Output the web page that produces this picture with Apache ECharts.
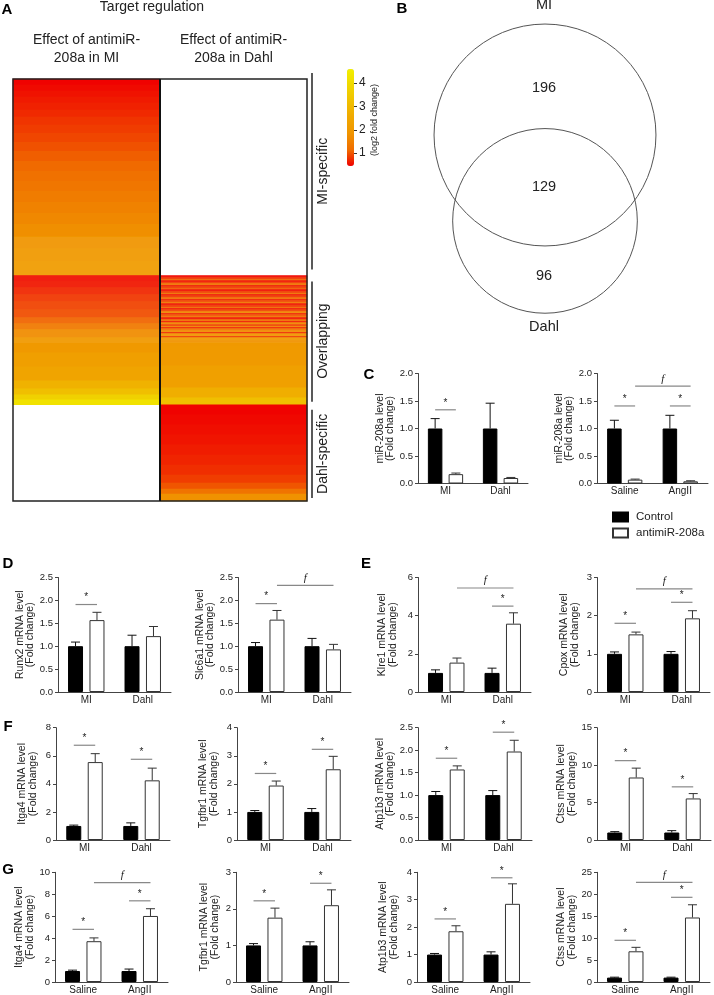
<!DOCTYPE html>
<html><head><meta charset="utf-8">
<script src="https://cdn.jsdelivr.net/npm/echarts@6/dist/echarts.min.js"></script>
<style>html,body{margin:0;padding:0;background:#fff}#c{width:714px;height:995px}</style>
</head><body><div id="c"></div>
<script>
const FONT = '"Liberation Sans", Arial, Helvetica, sans-serif';

// ---------------- Panel A : heatmap (run-length segments: [rows, log2 fold change]) ----------------
const heatColumns = ['Effect of antimiR-\n208a in MI', 'Effect of antimiR-\n208a in Dahl'];
const heatGroups = ['MI-specific', 'Overlapping', 'Dahl-specific'];
const heatGroupCounts = [196, 129, 96];
const miSpecific_inMI = [[6,0.47],[6,0.52],[6,0.57],[6,0.62],[7,0.67],[7,0.72],[8,0.78],[8,0.84],[9,0.9],[9,0.97],
  [10,1.05],[10,1.13],[10,1.22],[10,1.32],[11,1.42],[11,1.52],[11,1.63],[12,1.75],[12,1.88],[13,2.0],[14,2.12]];
const overlap_inMI = [[6,0.55],[6,0.6],[7,0.7],[7,0.8],[8,0.88],[8,0.95],[6,1.1],[6,1.35],[8,1.7],[15,2.0],
  [14,2.2],[14,2.4],[8,2.8],[6,3.2],[5,3.7],[5,4.2]];
const overlap_inDahl = [[2,0.5],[2,0.8],[1,1.2],[2,0.6],[1,0.9],[2,1.3],[1,0.5],[2,0.85],[1,1.1],[2,0.55],
  [2,0.9],[1,1.4],[1,0.5],[2,0.8],[2,1.2],[1,0.55],[2,0.95],[1,1.5],[2,0.6],[2,0.85],
  [1,1.3],[1,0.5],[2,0.9],[2,1.6],[1,0.55],[2,1.0],[1,1.4],[2,0.6],[2,1.2],[1,0.5],
  [2,1.6],[2,0.9],[1,1.8],[1,0.55],[2,1.3],[2,1.7],[1,0.6],[3,1.9],[1,0.7],[3,2.0],
  [2,1.8],[3,2.0],[20,2.05],[22,2.25],[10,2.7],[7,3.2]];
const dahlSpecific_inDahl = [[10,0.46],[10,0.5],[10,0.54],[10,0.58],[10,0.63],[10,0.68],[10,0.75],[8,0.85],[6,1.0],[5,1.3],[7,1.8]];
const colorbarRange = [0.45, 4.6];
const colorbarTicks = [1, 2, 3, 4];

// ---------------- Panel B : Venn ----------------
const vennSetNames = ['MI', 'Dahl'];
const vennRegionCounts = [196, 129, 96]; // MI only, both, Dahl only

// ---------------- Panels C-G : bar charts ----------------
const seriesNames = ['Control', 'antimiR-208a'];
const catsMIDahl = ['MI', 'Dahl'];
const catsSalineAngII = ['Saline', 'AngII'];
// significance: [label, catA, seriesA, catB, seriesB, yLevel]
const C1_control = [1.0, 1.0], C1_controlErr = [1.18, 1.46], C1_antimiR = [0.17, 0.10], C1_antimiRErr = [0.19, 0.11];
const C1_sig = [['*',0,0,0,1,1.34]];
const C2_control = [1.0, 1.0], C2_controlErr = [1.15, 1.24], C2_antimiR = [0.07, 0.04], C2_antimiRErr = [0.08, 0.05];
const C2_sig = [['*',0,0,0,1,1.41],['*',1,0,1,1,1.41],['f',0,1,1,1,1.77]];
const D1_control = [1.0, 1.0], D1_controlErr = [1.09, 1.24], D1_antimiR = [1.57, 1.22], D1_antimiRErr = [1.74, 1.43];
const D1_sig = [['*',0,0,0,1,1.91]];
const D2_control = [1.0, 1.0], D2_controlErr = [1.08, 1.17], D2_antimiR = [1.58, 0.93], D2_antimiRErr = [1.78, 1.04];
const D2_sig = [['*',0,0,0,1,1.93],['f',0,1,1,1,2.33]];
const E1_control = [1.0, 1.0], E1_controlErr = [1.16, 1.25], E1_antimiR = [1.54, 3.58], E1_antimiRErr = [1.78, 4.15];
const E1_sig = [['*',1,0,1,1,4.5],['f',0,1,1,1,5.45]];
const E2_control = [1.0, 1.0], E2_controlErr = [1.05, 1.06], E2_antimiR = [1.51, 1.93], E2_antimiRErr = [1.57, 2.13];
const E2_sig = [['*',0,0,0,1,1.8],['*',1,0,1,1,2.35],['f',0,1,1,1,2.7]];
const F1_control = [1.0, 1.0], F1_controlErr = [1.06, 1.22], F1_antimiR = [5.55, 4.25], F1_antimiRErr = [6.15, 5.12];
const F1_sig = [['*',0,0,0,1,6.75],['*',1,0,1,1,5.75]];
const F2_control = [1.0, 1.0], F2_controlErr = [1.05, 1.12], F2_antimiR = [1.94, 2.52], F2_antimiRErr = [2.1, 2.98];
const F2_sig = [['*',0,0,0,1,2.37],['*',1,0,1,1,3.23]];
const F3_control = [1.0, 1.0], F3_controlErr = [1.08, 1.1], F3_antimiR = [1.57, 1.97], F3_antimiRErr = [1.65, 2.22];
const F3_sig = [['*',0,0,0,1,1.82],['*',1,0,1,1,2.40]];
const F4_control = [1.0, 1.0], F4_controlErr = [1.12, 1.25], F4_antimiR = [8.35, 5.55], F4_antimiRErr = [9.6, 6.2];
const F4_sig = [['*',0,0,0,1,10.6],['*',1,0,1,1,7.1]];
const G1_control = [1.0, 1.0], G1_controlErr = [1.08, 1.18], G1_antimiR = [3.72, 6.02], G1_antimiRErr = [4.02, 6.68];
const G1_sig = [['*',0,0,0,1,4.8],['*',1,0,1,1,7.4],['f',0,1,1,1,9.05]];
const G2_control = [1.0, 1.0], G2_controlErr = [1.05, 1.1], G2_antimiR = [1.76, 2.1], G2_antimiRErr = [2.02, 2.52];
const G2_sig = [['*',0,0,0,1,2.22],['*',1,0,1,1,2.7]];
const G3_control = [1.0, 1.0], G3_controlErr = [1.04, 1.1], G3_antimiR = [1.85, 2.85], G3_antimiRErr = [2.05, 3.58];
const G3_sig = [['*',0,0,0,1,2.3],['*',1,0,1,1,3.8]];
const G4_control = [1.0, 1.0], G4_controlErr = [1.1, 1.1], G4_antimiR = [7.0, 14.7], G4_antimiRErr = [7.9, 17.6];
const G4_sig = [['*',0,0,0,1,9.5],['*',1,0,1,1,19.3],['f',0,1,1,1,22.7]];

const yTitles = {
  C1:'miR-208a level', C2:'miR-208a level', D1:'Runx2 mRNA level', D2:'Slc6a1 mRNA level',
  E1:'Klre1 mRNA level', E2:'Cpox mRNA level', F1:'Itga4 mRNA level', F2:'Tgfbr1 mRNA level',
  F3:'Atp1b3 mRNA level', F4:'Ctss mRNA level', G1:'Itga4 mRNA level', G2:'Tgfbr1 mRNA level',
  G3:'Atp1b3 mRNA level', G4:'Ctss mRNA level'
};

const chartDefs = [
  ['C1', catsMIDahl, C1_control, C1_controlErr, C1_antimiR, C1_antimiRErr, C1_sig],
  ['C2', catsSalineAngII, C2_control, C2_controlErr, C2_antimiR, C2_antimiRErr, C2_sig],
  ['D1', catsMIDahl, D1_control, D1_controlErr, D1_antimiR, D1_antimiRErr, D1_sig],
  ['D2', catsMIDahl, D2_control, D2_controlErr, D2_antimiR, D2_antimiRErr, D2_sig],
  ['E1', catsMIDahl, E1_control, E1_controlErr, E1_antimiR, E1_antimiRErr, E1_sig],
  ['E2', catsMIDahl, E2_control, E2_controlErr, E2_antimiR, E2_antimiRErr, E2_sig],
  ['F1', catsMIDahl, F1_control, F1_controlErr, F1_antimiR, F1_antimiRErr, F1_sig],
  ['F2', catsMIDahl, F2_control, F2_controlErr, F2_antimiR, F2_antimiRErr, F2_sig],
  ['F3', catsMIDahl, F3_control, F3_controlErr, F3_antimiR, F3_antimiRErr, F3_sig],
  ['F4', catsMIDahl, F4_control, F4_controlErr, F4_antimiR, F4_antimiRErr, F4_sig],
  ['G1', catsSalineAngII, G1_control, G1_controlErr, G1_antimiR, G1_antimiRErr, G1_sig],
  ['G2', catsSalineAngII, G2_control, G2_controlErr, G2_antimiR, G2_antimiRErr, G2_sig],
  ['G3', catsSalineAngII, G3_control, G3_controlErr, G3_antimiR, G3_antimiRErr, G3_sig],
  ['G4', catsSalineAngII, G4_control, G4_controlErr, G4_antimiR, G4_antimiRErr, G4_sig]
];

// ---------------- layout (positions / sizes / styles) ----------------
const layouts = {
  C1:{left:418, top:373.5, width:110, height:110, max:2, interval:0.5, dec:1, gap:17, bw:14.5},
  C2:{left:597, top:373.5, width:111, height:110, max:2, interval:0.5, dec:1, gap:19, bw:14.5},
  D1:{left:58, top:577.5, width:113, height:114.5, max:2.5, interval:0.5, dec:1, gap:18, bw:15},
  D2:{left:238, top:577.5, width:113, height:114.5, max:2.5, interval:0.5, dec:1, gap:22, bw:15},
  E1:{left:418, top:577.5, width:113, height:114.5, max:6, interval:2, dec:0, gap:20, bw:15},
  E2:{left:597, top:577.5, width:113, height:114.5, max:3, interval:1, dec:0, gap:17, bw:15},
  F1:{left:56, top:727.7, width:114, height:112.3, max:8, interval:2, dec:0, gap:18, bw:15},
  F2:{left:237, top:727.7, width:114, height:112.3, max:4, interval:1, dec:0, gap:18, bw:15},
  F3:{left:418, top:727.7, width:114, height:112.3, max:2.5, interval:0.5, dec:1, gap:18, bw:15},
  F4:{left:597, top:727.7, width:114, height:112.3, max:15, interval:5, dec:0, gap:17, bw:15},
  G1:{left:55, top:872.3, width:113, height:111.7, max:10, interval:2, dec:0, gap:17, bw:15},
  G2:{left:236, top:872.3, width:113, height:111.7, max:3, interval:1, dec:0, gap:16, bw:15},
  G3:{left:417, top:872.3, width:113, height:111.7, max:4, interval:1, dec:0, gap:18, bw:15},
  G4:{left:597, top:872.3, width:113, height:111.7, max:25, interval:5, dec:0, gap:15, bw:15}
};
const BAR_GAP_RATIO = 0.43;
const heatLayout = {left:13, top:79, width:294, height:422};
const vennLayout = {left:380, top:0, width:330, height:450, centerX:545, topCenterY:135, pxPerUnit:10.91};

// ---------------- build ----------------
function expandRuns(runs){ const o=[]; runs.forEach(([n,v])=>{ for(let i=0;i<n;i++) o.push(v); }); return o; }
const nRows = heatGroupCounts.reduce((a,b)=>a+b,0);
const miCol = expandRuns(miSpecific_inMI).concat(expandRuns(overlap_inMI));
const dahlCol = expandRuns(overlap_inDahl).concat(expandRuns(dahlSpecific_inDahl));
const heatData = [];
miCol.forEach((v,i)=>heatData.push([0, i, v]));
dahlCol.forEach((v,i)=>heatData.push([1, i + heatGroupCounts[0], v]));
const rowCats = Array.from({length:nRows}, (_, i) => String(i));

// Venn geometry from counts (area proportional)
const nMI = vennRegionCounts[0] + vennRegionCounts[1];
const nDahl = vennRegionCounts[2] + vennRegionCounts[1];
const rMI = Math.sqrt(nMI/Math.PI), rDahl = Math.sqrt(nDahl/Math.PI);
function lens(d, a, b){
  const t1 = a*a*Math.acos((d*d + a*a - b*b)/(2*d*a));
  const t2 = b*b*Math.acos((d*d + b*b - a*a)/(2*d*b));
  const t3 = 0.5*Math.sqrt((-d+a+b)*(d+a-b)*(d-a+b)*(d+a+b));
  return t1 + t2 - t3;
}
let lo = Math.abs(rMI - rDahl) + 1e-6, hi = rMI + rDahl - 1e-6;
for (let i=0;i<80;i++){ const m=(lo+hi)/2; if (lens(m, rMI, rDahl) > vennRegionCounts[1]) lo = m; else hi = m; }
const dVenn = (lo+hi)/2;
const vennCircles = [[0, 0, rMI], [0, -dVenn, rDahl]];

const grids = [], xAxes = [], yAxes = [], series = [];
// grid 0: heatmap
grids.push({left:heatLayout.left, top:heatLayout.top, width:heatLayout.width, height:heatLayout.height, show:false});
xAxes.push({type:'category', gridIndex:0, data:['MI','Dahl'], show:false});
yAxes.push({type:'category', gridIndex:0, data:rowCats, inverse:true, show:false});
series.push({type:'heatmap', xAxisIndex:0, yAxisIndex:0, data:heatData, progressive:0, silent:true,
  itemStyle:{borderWidth:0}, emphasis:{disabled:true}});
// grid 1: colorbar axis
grids.push({left:347, top:69, width:7, height:97, show:false});
xAxes.push({type:'category', gridIndex:1, data:[''], show:false});
yAxes.push({type:'value', gridIndex:1, position:'right', min:colorbarRange[0], max:colorbarRange[1],
  splitLine:{show:false}, axisLine:{show:false},
  axisTick:{show:true, length:3, customValues:colorbarTicks, lineStyle:{color:'#333'}},
  axisLabel:{customValues:colorbarTicks, fontSize:12, margin:5, color:'#222', fontFamily:FONT}});
// grid 2: venn
const vs = vennLayout.pxPerUnit;
grids.push({left:vennLayout.left, top:vennLayout.top, width:vennLayout.width, height:vennLayout.height, show:false});
xAxes.push({type:'value', gridIndex:2, show:false, min:-(vennLayout.centerX - vennLayout.left)/vs,
  max:(vennLayout.left + vennLayout.width - vennLayout.centerX)/vs});
const vYmax = (vennLayout.topCenterY - vennLayout.top)/vs;
yAxes.push({type:'value', gridIndex:2, show:false, max:vYmax, min:vYmax - vennLayout.height/vs});
series.push({type:'custom', xAxisIndex:2, yAxisIndex:2, data:vennCircles, silent:true, clip:false,
  renderItem:(p, api)=>{
    const c = api.coord([api.value(0), api.value(1)]);
    const r = api.size([api.value(2), 0])[0];
    return {type:'circle', shape:{cx:c[0], cy:c[1], r:r}, style:{fill:'none', stroke:'#555', lineWidth:1}};
  }});

chartDefs.forEach((def, k) => {
  const [key, cats, ctrl, ctrlErr, anti, antiErr, sig] = def;
  const L = layouts[key];
  const gi = grids.length;
  const off = (L.bw + L.bw*BAR_GAP_RATIO)/2;
  grids.push({left:L.left, top:L.top, width:L.width, height:L.height, show:false});
  xAxes.push({type:'category', gridIndex:gi, data:cats,
    axisLine:{show:true, lineStyle:{color:'#444', width:1}}, axisTick:{show:false},
    axisLabel:{fontSize:10, margin:3, color:'#222', fontFamily:FONT}, splitLine:{show:false}});
  yAxes.push({type:'value', gridIndex:gi, min:0, max:L.max, interval:L.interval,
    axisLine:{show:true, lineStyle:{color:'#444', width:1}},
    axisTick:{show:true, length:3, lineStyle:{color:'#444'}},
    splitLine:{show:false},
    axisLabel:{fontSize:9.5, margin:5, color:'#222', fontFamily:FONT,
      formatter:(v)=>Number(v).toFixed(L.dec)},
    name: yTitles[key] + '\n(Fold change)', nameLocation:'middle', nameGap:L.gap,
    nameTextStyle:{fontSize:10.5, lineHeight:10.5, color:'#222', fontFamily:FONT}});
  series.push({type:'bar', name:seriesNames[0], xAxisIndex:gi, yAxisIndex:gi, data:ctrl,
    barWidth:L.bw, barGap:(BAR_GAP_RATIO*100)+'%', silent:true,
    itemStyle:{color:'#000', borderColor:'#000', borderWidth:1}});
  series.push({type:'bar', name:seriesNames[1], xAxisIndex:gi, yAxisIndex:gi, data:anti,
    barWidth:L.bw, barGap:(BAR_GAP_RATIO*100)+'%', silent:true,
    itemStyle:{color:'#fff', borderColor:'#333', borderWidth:1}});
  const errData = [];
  ctrl.forEach((v,i)=>errData.push([i, v, ctrlErr[i], 0]));
  anti.forEach((v,i)=>errData.push([i, v, antiErr[i], 1]));
  series.push({type:'custom', xAxisIndex:gi, yAxisIndex:gi, data:errData, silent:true, z:3,
    renderItem:(p, api)=>{
      const cat = api.value(0), s = api.value(3);
      const b = api.coord([cat, api.value(1)]), t = api.coord([cat, api.value(2)]);
      const x = b[0] + (s === 0 ? -off : off);
      const col = s === 0 ? '#111' : '#333';
      return {type:'group', children:[
        {type:'line', shape:{x1:x, y1:b[1], x2:x, y2:t[1]}, style:{stroke:col, lineWidth:1}},
        {type:'line', shape:{x1:x-4.5, y1:t[1], x2:x+4.5, y2:t[1]}, style:{stroke:col, lineWidth:1}}
      ]};
    }});
  series.push({type:'custom', xAxisIndex:gi, yAxisIndex:gi, silent:true, z:4, clip:false,
    data: sig.map(s => [s[1], s[2], s[3], s[4], s[5]]),
    renderItem:(p, api)=>{
      const lab = sig[p.dataIndex][0];
      const a = api.coord([api.value(0), api.value(4)]);
      const b = api.coord([api.value(2), api.value(4)]);
      const x1 = a[0] + (api.value(1) === 0 ? -off : off);
      const x2 = b[0] + (api.value(3) === 0 ? -off : off);
      const isF = lab === 'f';
      return {type:'group', children:[
        {type:'line', shape:{x1:x1, y1:a[1], x2:x2, y2:a[1]}, style:{stroke:'#888', lineWidth:1.2}},
        {type:'text', x:(x1+x2)/2, y:a[1] - 2,
          style:{text:lab, align:'center', verticalAlign:'bottom', fill:'#222',
            font: isF ? 'italic 11px "Liberation Serif", "DejaVu Serif", serif' : '10px ' + FONT}}
      ]};
    }});
});

// ---------------- graphics (texts, frames) ----------------
const H = heatLayout;
const midX = H.left + H.width/2;
const txt = (text, x, y, size, extra) => Object.assign({type:'text', x:x, y:y, z:100,
  style:Object.assign({text:text, fill:'#222', align:'center', verticalAlign:'middle', font: size + 'px ' + FONT}, extra && extra.style || {})},
  extra && extra.el || {});
const rowPx = H.height / nRows;
const g0 = H.top, g1 = H.top + heatGroupCounts[0]*rowPx, g2 = g1 + heatGroupCounts[1]*rowPx, g3 = H.top + H.height;
const graphics = [
  txt('A', 7, 10, 15, {style:{font:'bold 15px ' + FONT, fill:'#000'}}),
  txt('B', 402, 9, 15, {style:{font:'bold 15px ' + FONT, fill:'#000'}}),
  txt('C', 369, 375, 15, {style:{font:'bold 15px ' + FONT, fill:'#000'}}),
  txt('D', 8, 564, 15, {style:{font:'bold 15px ' + FONT, fill:'#000'}}),
  txt('E', 366, 564, 15, {style:{font:'bold 15px ' + FONT, fill:'#000'}}),
  txt('F', 8, 727, 15, {style:{font:'bold 15px ' + FONT, fill:'#000'}}),
  txt('G', 8, 870, 15, {style:{font:'bold 15px ' + FONT, fill:'#000'}}),
  txt('Target regulation', 152, 7, 14),
  txt(heatColumns[0], H.left + H.width/4, 49, 14, {style:{lineHeight:18}}),
  txt(heatColumns[1], H.left + 3*H.width/4, 49, 14, {style:{lineHeight:18}}),
  {type:'rect', z:100, shape:{x:H.left, y:H.top, width:H.width, height:H.height}, style:{fill:'none', stroke:'#222', lineWidth:1.5}},
  {type:'line', z:100, shape:{x1:midX, y1:H.top, x2:midX, y2:H.top + H.height}, style:{stroke:'#111', lineWidth:2}},
  {type:'line', z:100, shape:{x1:312, y1:g0 - 6, x2:312, y2:g1 - 6}, style:{stroke:'#222', lineWidth:1.5}},
  {type:'line', z:100, shape:{x1:312, y1:g1 + 6, x2:312, y2:g2 - 3}, style:{stroke:'#222', lineWidth:1.5}},
  {type:'line', z:100, shape:{x1:312, y1:g2 + 5, x2:312, y2:g3 - 3}, style:{stroke:'#222', lineWidth:1.5}},
  txt(heatGroups[0], 323, (g0 + g1)/2 - 6, 14, {el:{rotation:Math.PI/2}}),
  txt(heatGroups[1], 323, (g1 + g2)/2 + 1, 14, {el:{rotation:Math.PI/2}}),
  txt(heatGroups[2], 323, (g2 + g3)/2 + 1, 14, {el:{rotation:Math.PI/2}}),
  txt('(log2 fold change)', 375, 120, 9, {el:{rotation:Math.PI/2}}),
  txt(vennSetNames[0], 544, 5, 14.5),
  txt(String(vennRegionCounts[0]), 544, 88, 14.5),
  txt(String(vennRegionCounts[1]), 544, 187, 14.5),
  txt(String(vennRegionCounts[2]), 544, 276, 14.5),
  txt(vennSetNames[1], 544, 327, 14.5)
];

const option = {
  animation:false,
  backgroundColor:'#fff',
  textStyle:{fontFamily:FONT},
  grid:grids, xAxis:xAxes, yAxis:yAxes, series:series,
  visualMap:{type:'continuous', seriesIndex:0, min:colorbarRange[0], max:colorbarRange[1],
    calculable:false, left:347, top:69, itemWidth:7, itemHeight:97, padding:0, text:null,
    showLabel:false, hoverLink:false, orient:'vertical',
    inRange:{color:['#f00000','#f06c00','#f09400','#f0a800','#f0c000','#f0d800','#f2f000']}},
  legend:{show:true, left:612, top:511, orient:'vertical', itemWidth:15, itemHeight:9, itemGap:4,
    padding:0, icon:'rect', selectedMode:false, data:seriesNames,
    textStyle:{fontSize:11.5, color:'#222', fontFamily:FONT, padding:[0,0,0,3]}},
  graphic:graphics
};
const chart = echarts.init(document.getElementById('c'), null, {renderer:'canvas'});
chart.setOption(option);
</script>
</body></html>
